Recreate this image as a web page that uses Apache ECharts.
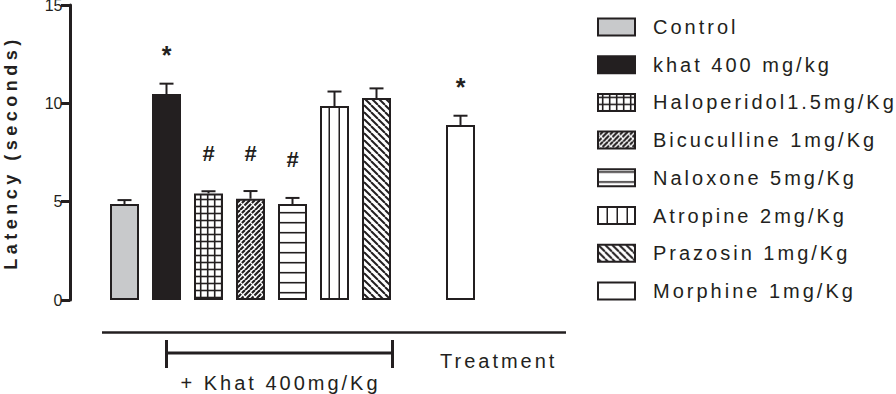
<!DOCTYPE html>
<html>
<head>
<meta charset="utf-8">
<script src="https://cdn.jsdelivr.net/npm/echarts@6/dist/echarts.min.js"></script>
<style>
  html, body { margin: 0; padding: 0; background: #fff; }
  #chart { width: 896px; height: 394px; }
  /* the exported figure uses very wide letter spacing */
  #chart text[style*="20px"] { letter-spacing: 3px; }
  #chart text[style*="18px"] { letter-spacing: 4.5px; }
</style>
</head>
<body>
<div id="chart"></div>
<script>
// data (slot 7 is the empty gap before morphine)
const categories = ['Control', 'khat 400 mg/kg', 'Haloperidol1.5mg/Kg', 'Bicuculline 1mg/Kg', 'Naloxone 5mg/Kg', 'Atropine 2mg/Kg', 'Prazosin 1mg/Kg', ' ', 'Morphine 1mg/Kg']
const latency = [4.88, 10.47, 5.42, 5.15, 4.88, 9.86, 10.27, null, 8.9]
const sem = [0.2, 0.53, 0.11, 0.39, 0.31, 0.74, 0.49, null, 0.47]
const marks = ['', '*', '#', '#', '#', '', '', '', '*']
const yTicks = [0, 5, 10, 15]

const ink = '#231f20'
const font = '"Liberation Sans", Arial, sans-serif'

function tile(w, h, draw) {
  const c = document.createElement('canvas')
  c.width = w
  c.height = h
  const ctx = c.getContext('2d')
  ctx.fillStyle = '#fff'
  ctx.fillRect(0, 0, w, h)
  ctx.strokeStyle = ink
  draw(ctx, w, h)
  return { image: c, repeat: 'repeat' }
}

function line(ctx, x1, y1, x2, y2) {
  ctx.beginPath()
  ctx.moveTo(x1, y1)
  ctx.lineTo(x2, y2)
  ctx.stroke()
}

const fills = [
  '#c8c9cb',
  ink,
  // grid
  tile(7, 7, (ctx) => { ctx.lineWidth = 1.6; line(ctx, 4.7, 0, 4.7, 7); line(ctx, 0, 3.5, 7, 3.5) }),
  // brick-like diagonal hatch
  tile(10, 10, (ctx) => {
    ctx.lineWidth = 2.2
    for (let k = -10; k <= 10; k += 5) line(ctx, k, 10, k + 10, 0)
    ctx.strokeStyle = '#fff'
    ctx.lineWidth = 1.2
    for (let k = -10; k <= 10; k += 10) line(ctx, k, 2, k + 6, 8)
  }),
  // horizontal lines
  tile(10, 10, (ctx) => { ctx.lineWidth = 1.6; line(ctx, 0, 2.7, 10, 2.7) }),
  // vertical lines
  tile(10, 10, (ctx) => { ctx.lineWidth = 1.6; line(ctx, 9.3, 0, 9.3, 10) }),
  // back diagonal
  tile(7, 7, (ctx) => {
    ctx.lineWidth = 2
    for (let k = -7; k <= 7; k += 7) line(ctx, k, 0, k + 7, 7)
  }),
  null,
  '#ffffff'
]

const chart = echarts.init(document.getElementById('chart'), null, { renderer: 'svg' })

const barSeries = categories.map((name, idx) => {
  if (latency[idx] == null) return null
  return {
    name: name,
    type: 'bar',
    barWidth: 29,
    barGap: '-100%',
    data: categories.map((c, i) => (i === idx ? latency[i] : '-')),
    itemStyle: { color: fills[idx], borderColor: ink, borderWidth: 2 }
  }
}).filter(s => s)

const errData = []
categories.forEach((c, i) => {
  if (latency[i] != null) errData.push([i, latency[i], sem[i]])
})

chart.setOption({
  animation: false,
  grid: { left: 103.5, top: 5, width: 378, bottom: 94, containLabel: false, outerBoundsMode: 'none' },
  legend: {
    data: categories.filter((c, i) => latency[i] != null),
    orient: 'vertical',
    left: 597,
    top: 17,
    padding: 0,
    icon: 'rect',
    itemWidth: 37,
    itemHeight: 17,
    itemGap: 17.7,
    selectedMode: false,
    textStyle: { fontFamily: font, fontSize: 20, color: ink, padding: [0, 0, 0, 13] }
  },
  xAxis: {
    type: 'category',
    data: categories,
    show: false
  },
  yAxis: {
    type: 'value',
    min: yTicks[0],
    max: yTicks[yTicks.length - 1],
    interval: yTicks[1] - yTicks[0],
    offset: 33.5,
    name: 'Latency (seconds)',
    nameLocation: 'middle',
    nameGap: 50,
    nameRotate: 90,
    nameMoveOverlap: false,
    nameTextStyle: { fontFamily: font, fontSize: 18, fontWeight: 'bold', color: ink },
    axisLine: { show: true, lineStyle: { color: ink, width: 3 } },
    axisTick: { show: true, length: 9, lineStyle: { color: ink, width: 3 } },
    axisLabel: { fontFamily: font, fontSize: 16, color: ink, margin: 7.5 },
    splitLine: { show: false }
  },
  series: barSeries.concat([{
    type: 'custom',
    data: errData,
    z: 5,
    renderItem: function(params, api) {
      const i = api.value(0)
      const m = api.value(1)
      const e = api.value(2)
      const base = api.coord([i, m])
      const top = api.coord([i, m + e])
      const st = { stroke: ink, lineWidth: 2 }
      const children = [
        { type: 'line', shape: { x1: base[0], y1: base[1], x2: top[0], y2: top[1] }, style: st },
        { type: 'line', shape: { x1: top[0] - 7, y1: top[1], x2: top[0] + 7, y2: top[1] }, style: st }
      ]
      if (marks[i]) {
        const star = marks[i] === '*'
        children.push({
          type: 'text',
          x: top[0],
          y: top[1] - (star ? 29 : 38),
          style: {
            text: marks[i],
            fill: ink,
            font: 'bold ' + (star ? 25 : 22) + 'px ' + font,
            align: 'center',
            verticalAlign: 'middle'
          }
        })
      }
      return { type: 'group', children: children }
    }
  }])
})

// bracket under the khat-pretreated groups and the treatment axis line
const left = chart.convertToPixel({ gridIndex: 0 }, [1, 0])[0]
const right = chart.convertToPixel({ gridIndex: 0 }, [6, 0])[0] + 16
const ls = { stroke: ink, lineWidth: 3 }
chart.setOption({
  graphic: [
    { type: 'line', shape: { x1: 102, y1: 332.5, x2: 566, y2: 332.5 }, style: { stroke: ink, lineWidth: 2.5 } },
    { type: 'line', shape: { x1: left, y1: 340, x2: left, y2: 368 }, style: ls },
    { type: 'line', shape: { x1: right, y1: 340, x2: right, y2: 368 }, style: ls },
    { type: 'line', shape: { x1: left, y1: 353, x2: right, y2: 353 }, style: ls },
    {
      type: 'text', x: (left + right) / 2 + 1, y: 383,
      style: { text: '+ Khat 400mg/Kg', fill: ink, font: '20px ' + font, align: 'center', verticalAlign: 'middle' }
    },
    {
      type: 'text', x: 440, y: 361,
      style: { text: 'Treatment', fill: ink, font: '20px ' + font, align: 'left', verticalAlign: 'middle' }
    }
  ]
})
</script>
</body>
</html>
